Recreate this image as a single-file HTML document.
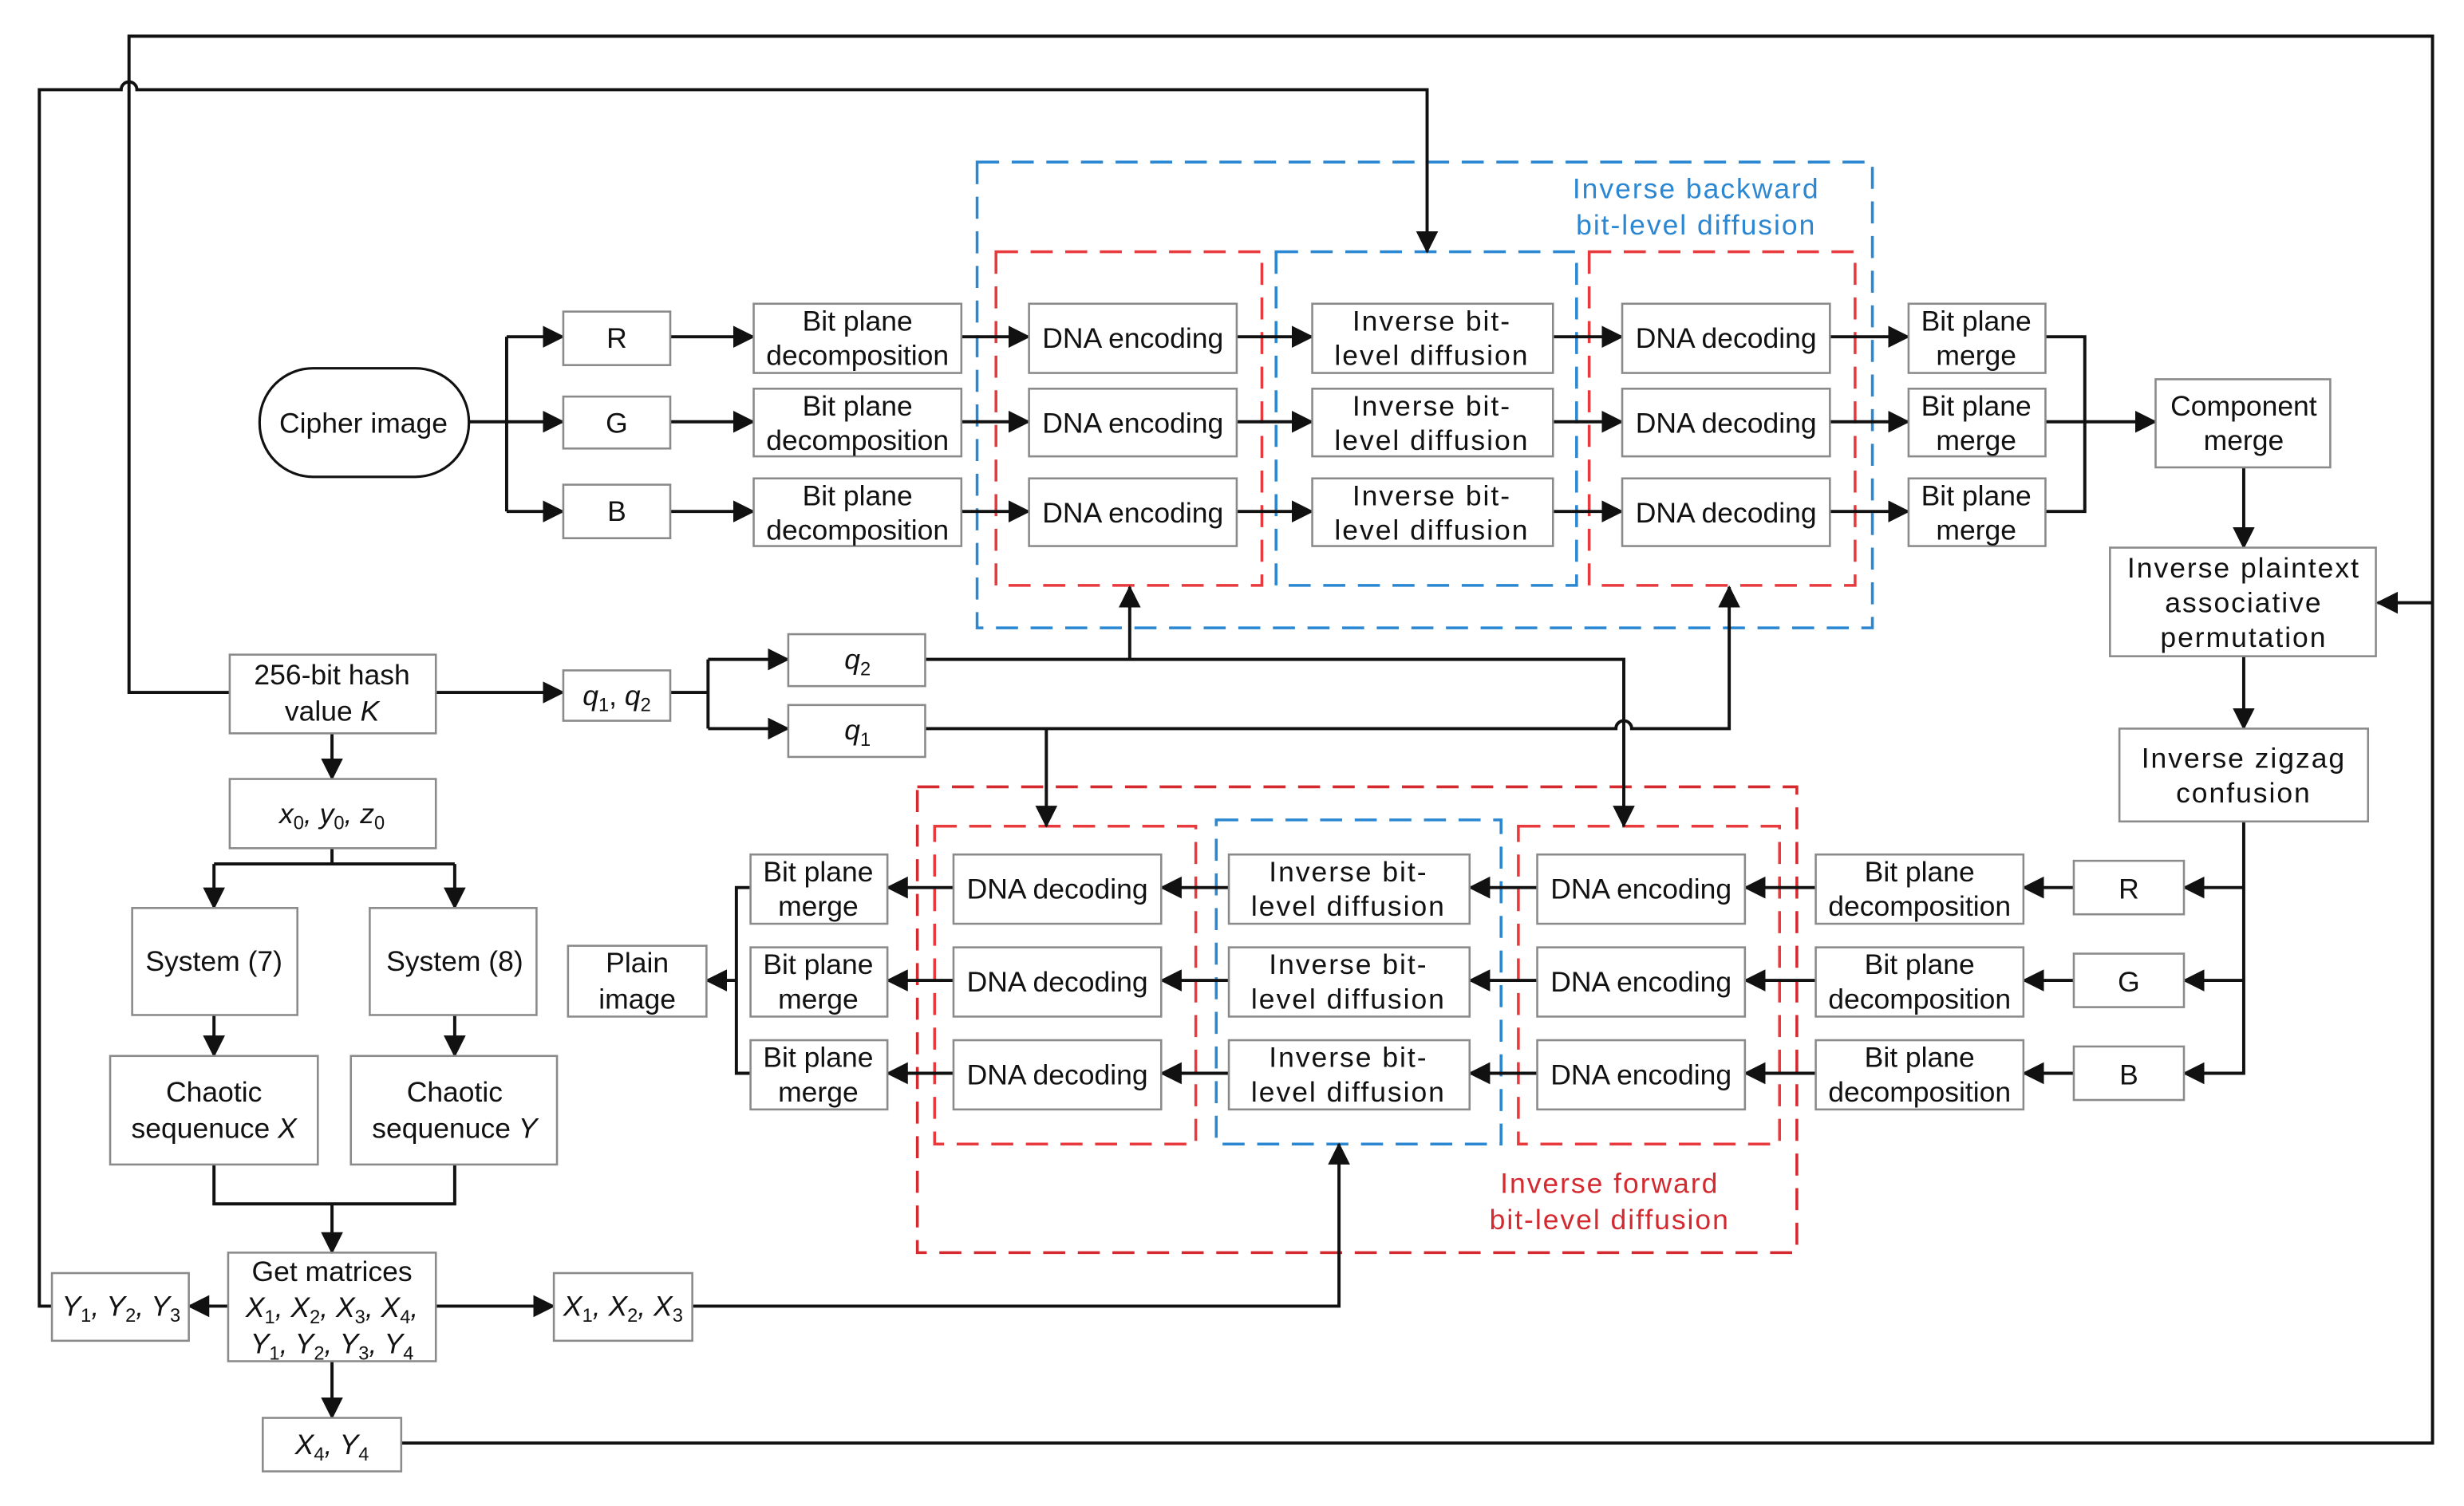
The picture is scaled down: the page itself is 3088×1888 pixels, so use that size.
<!DOCTYPE html>
<html><head><meta charset="utf-8"><style>
html,body{margin:0;padding:0;background:#fff;}
svg{display:block;}
text{font-family:"Liberation Sans",Arial,sans-serif;font-size:18px;fill:#111;text-anchor:middle;}
.b{fill:#fff;stroke:#8a8a8a;stroke-width:1.3;}
.l{fill:none;stroke:#111;stroke-width:2;}
.rd{fill:none;stroke:#e8393d;stroke-width:1.8;stroke-dasharray:14,8;}
.bd{fill:none;stroke:#2b87d1;stroke-width:1.8;stroke-dasharray:14,8;}
.sp{letter-spacing:1px;}
</style></head><body>
<svg width="3088" height="1888" viewBox="0 0 1566 957" preserveAspectRatio="none" xmlns="http://www.w3.org/2000/svg">
<defs><marker id="a" markerUnits="userSpaceOnUse" markerWidth="14" markerHeight="14" refX="13" refY="7" orient="auto"><path d="M0,0 L14,7 L0,14 z" fill="#111"/></marker></defs>

<rect class="bd" x="621" y="103" width="569" height="296"/>
<rect class="rd" x="633" y="160" width="169" height="212"/>
<rect class="bd" x="811" y="160" width="191" height="212"/>
<rect class="rd" x="1010" y="160" width="169" height="212"/>
<text x="1078" y="126" style="fill:#2b87d1" class="sp">Inverse backward</text>
<text x="1078" y="149" style="fill:#2b87d1" class="sp">bit-level diffusion</text>
<rect class="rd" x="583" y="500" width="559" height="296" style="stroke:#d42a2f"/>
<rect class="rd" x="594" y="525" width="166" height="202"/>
<rect class="bd" x="773" y="521" width="181" height="206"/>
<rect class="rd" x="965" y="525" width="166" height="202"/>
<text x="1023" y="758" style="fill:#d42a2f" class="sp">Inverse forward</text>
<text x="1023" y="781" style="fill:#d42a2f" class="sp">bit-level diffusion</text>

<path class="l" d="M146,440 L82,440 L82,23 L1546,23 L1546,917 L255,917"/>
<path class="l" d="M1546,383 L1511,383" marker-end="url(#a)"/>
<path class="l" d="M33,830 L25,830 L25,57 L77,57 A5,5 0 0 1 87,57 L907,57 L907,160" marker-end="url(#a)"/>

<path class="l" d="M298,268 L322,268 M322,214 L322,325"/>
<path class="l" d="M322,214 L358,214" marker-end="url(#a)"/>
<path class="l" d="M322,268 L358,268" marker-end="url(#a)"/>
<path class="l" d="M322,325 L358,325" marker-end="url(#a)"/>
<g>
<path class="l" d="M426,214 L479,214" marker-end="url(#a)"/>
<path class="l" d="M426,268 L479,268" marker-end="url(#a)"/>
<path class="l" d="M426,325 L479,325" marker-end="url(#a)"/>
<path class="l" d="M611,214 L654,214" marker-end="url(#a)"/>
<path class="l" d="M611,268 L654,268" marker-end="url(#a)"/>
<path class="l" d="M611,325 L654,325" marker-end="url(#a)"/>
<path class="l" d="M786,214 L834,214" marker-end="url(#a)"/>
<path class="l" d="M786,268 L834,268" marker-end="url(#a)"/>
<path class="l" d="M786,325 L834,325" marker-end="url(#a)"/>
<path class="l" d="M987,214 L1031,214" marker-end="url(#a)"/>
<path class="l" d="M987,268 L1031,268" marker-end="url(#a)"/>
<path class="l" d="M987,325 L1031,325" marker-end="url(#a)"/>
<path class="l" d="M1163,214 L1213,214" marker-end="url(#a)"/>
<path class="l" d="M1163,268 L1213,268" marker-end="url(#a)"/>
<path class="l" d="M1163,325 L1213,325" marker-end="url(#a)"/>
</g>
<path class="l" d="M1300,214 L1325,214 L1325,325 L1300,325 M1300,268 L1325,268"/>
<path class="l" d="M1325,268 L1370,268" marker-end="url(#a)"/>
<path class="l" d="M1426,297 L1426,348" marker-end="url(#a)"/>
<path class="l" d="M1426,417 L1426,463" marker-end="url(#a)"/>
<path class="l" d="M1426,522 L1426,683"/>
<path class="l" d="M1426,564 L1388,564" marker-end="url(#a)"/>
<path class="l" d="M1426,623 L1388,623" marker-end="url(#a)"/>
<path class="l" d="M1426,682 L1388,682" marker-end="url(#a)"/>
<g>
<path class="l" d="M1318,564 L1286,564" marker-end="url(#a)"/>
<path class="l" d="M1318,623 L1286,623" marker-end="url(#a)"/>
<path class="l" d="M1318,682 L1286,682" marker-end="url(#a)"/>
<path class="l" d="M1154,564 L1109,564" marker-end="url(#a)"/>
<path class="l" d="M1154,623 L1109,623" marker-end="url(#a)"/>
<path class="l" d="M1154,682 L1109,682" marker-end="url(#a)"/>
<path class="l" d="M977,564 L934,564" marker-end="url(#a)"/>
<path class="l" d="M977,623 L934,623" marker-end="url(#a)"/>
<path class="l" d="M977,682 L934,682" marker-end="url(#a)"/>
<path class="l" d="M781,564 L738,564" marker-end="url(#a)"/>
<path class="l" d="M781,623 L738,623" marker-end="url(#a)"/>
<path class="l" d="M781,682 L738,682" marker-end="url(#a)"/>
<path class="l" d="M606,564 L564,564" marker-end="url(#a)"/>
<path class="l" d="M606,623 L564,623" marker-end="url(#a)"/>
<path class="l" d="M606,682 L564,682" marker-end="url(#a)"/>
</g>
<path class="l" d="M477,564 L468,564 L468,682 L477,682"/>
<path class="l" d="M468,623 L449,623" marker-end="url(#a)"/>

<path class="l" d="M277,440 L358,440" marker-end="url(#a)"/>
<path class="l" d="M426,440 L450,440 M450,419 L450,463"/>
<path class="l" d="M450,419 L501,419" marker-end="url(#a)"/>
<path class="l" d="M450,463 L501,463" marker-end="url(#a)"/>
<path class="l" d="M588,419 L1032,419 L1032,525" marker-end="url(#a)"/>
<path class="l" d="M718,419 L718,373" marker-end="url(#a)"/>
<path class="l" d="M588,463 L1027,463 A5,5 0 0 1 1037,463 L1099,463 L1099,373" marker-end="url(#a)"/>
<path class="l" d="M665,463 L665,525" marker-end="url(#a)"/>
<path class="l" d="M211,466 L211,495" marker-end="url(#a)"/>
<path class="l" d="M211,539 L211,549 M136,549 L289,549"/>
<path class="l" d="M136,549 L136,577" marker-end="url(#a)"/>
<path class="l" d="M289,549 L289,577" marker-end="url(#a)"/>
<path class="l" d="M136,645 L136,671" marker-end="url(#a)"/>
<path class="l" d="M289,645 L289,671" marker-end="url(#a)"/>
<path class="l" d="M136,740 L136,765 L289,765 L289,740"/>
<path class="l" d="M211,765 L211,796" marker-end="url(#a)"/>
<path class="l" d="M145,830 L120,830" marker-end="url(#a)"/>
<path class="l" d="M277,830 L352,830" marker-end="url(#a)"/>
<path class="l" d="M440,830 L851,830 L851,727" marker-end="url(#a)"/>
<path class="l" d="M211,865 L211,901" marker-end="url(#a)"/>

<rect x="165" y="234" width="133" height="69" rx="34" fill="#fff" stroke="#111" stroke-width="1.6"/>
<text x="231" y="275">Cipher image</text>

<g>
<rect class="b" x="358" y="198" width="68" height="34"/><text x="392" y="221">R</text>
<rect class="b" x="358" y="252" width="68" height="33"/><text x="392" y="275">G</text>
<rect class="b" x="358" y="308" width="68" height="34"/><text x="392" y="331">B</text>

<rect class="b" x="479" y="193" width="132" height="44"/><text x="545" y="210">Bit plane</text><text x="545" y="232">decomposition</text>
<rect class="b" x="479" y="247" width="132" height="43"/><text x="545" y="264">Bit plane</text><text x="545" y="286">decomposition</text>
<rect class="b" x="479" y="304" width="132" height="43"/><text x="545" y="321">Bit plane</text><text x="545" y="343">decomposition</text>

<rect class="b" x="654" y="193" width="132" height="44"/><text x="720" y="221">DNA encoding</text>
<rect class="b" x="654" y="247" width="132" height="43"/><text x="720" y="275">DNA encoding</text>
<rect class="b" x="654" y="304" width="132" height="43"/><text x="720" y="332">DNA encoding</text>

<rect class="b" x="834" y="193" width="153" height="44"/><text class="sp" x="910" y="210">Inverse bit-</text><text class="sp" x="910" y="232">level diffusion</text>
<rect class="b" x="834" y="247" width="153" height="43"/><text class="sp" x="910" y="264">Inverse bit-</text><text class="sp" x="910" y="286">level diffusion</text>
<rect class="b" x="834" y="304" width="153" height="43"/><text class="sp" x="910" y="321">Inverse bit-</text><text class="sp" x="910" y="343">level diffusion</text>

<rect class="b" x="1031" y="193" width="132" height="44"/><text x="1097" y="221">DNA decoding</text>
<rect class="b" x="1031" y="247" width="132" height="43"/><text x="1097" y="275">DNA decoding</text>
<rect class="b" x="1031" y="304" width="132" height="43"/><text x="1097" y="332">DNA decoding</text>

<rect class="b" x="1213" y="193" width="87" height="44"/><text x="1256" y="210">Bit plane</text><text x="1256" y="232">merge</text>
<rect class="b" x="1213" y="247" width="87" height="43"/><text x="1256" y="264">Bit plane</text><text x="1256" y="286">merge</text>
<rect class="b" x="1213" y="304" width="87" height="43"/><text x="1256" y="321">Bit plane</text><text x="1256" y="343">merge</text>

<rect class="b" x="1370" y="241" width="111" height="56"/><text x="1426" y="264">Component</text><text x="1426" y="286">merge</text>
<rect class="b" x="1341" y="348" width="169" height="69"/><text class="sp" x="1426" y="367">Inverse plaintext</text><text class="sp" x="1426" y="389">associative</text><text class="sp" x="1426" y="411">permutation</text>
<rect class="b" x="1347" y="463" width="158" height="59"/><text class="sp" x="1426" y="488">Inverse zigzag</text><text class="sp" x="1426" y="510">confusion</text>

<rect class="b" x="1318" y="547" width="70" height="34"/><text x="1353" y="571">R</text>
<rect class="b" x="1318" y="606" width="70" height="34"/><text x="1353" y="630">G</text>
<rect class="b" x="1318" y="665" width="70" height="34"/><text x="1353" y="689">B</text>

<rect class="b" x="1154" y="543" width="132" height="44"/><text x="1220" y="560">Bit plane</text><text x="1220" y="582">decomposition</text>
<rect class="b" x="1154" y="602" width="132" height="44"/><text x="1220" y="619">Bit plane</text><text x="1220" y="641">decomposition</text>
<rect class="b" x="1154" y="661" width="132" height="44"/><text x="1220" y="678">Bit plane</text><text x="1220" y="700">decomposition</text>

<rect class="b" x="977" y="543" width="132" height="44"/><text x="1043" y="571">DNA encoding</text>
<rect class="b" x="977" y="602" width="132" height="44"/><text x="1043" y="630">DNA encoding</text>
<rect class="b" x="977" y="661" width="132" height="44"/><text x="1043" y="689">DNA encoding</text>

<rect class="b" x="781" y="543" width="153" height="44"/><text class="sp" x="857" y="560">Inverse bit-</text><text class="sp" x="857" y="582">level diffusion</text>
<rect class="b" x="781" y="602" width="153" height="44"/><text class="sp" x="857" y="619">Inverse bit-</text><text class="sp" x="857" y="641">level diffusion</text>
<rect class="b" x="781" y="661" width="153" height="44"/><text class="sp" x="857" y="678">Inverse bit-</text><text class="sp" x="857" y="700">level diffusion</text>

<rect class="b" x="606" y="543" width="132" height="44"/><text x="672" y="571">DNA decoding</text>
<rect class="b" x="606" y="602" width="132" height="44"/><text x="672" y="630">DNA decoding</text>
<rect class="b" x="606" y="661" width="132" height="44"/><text x="672" y="689">DNA decoding</text>

<rect class="b" x="477" y="543" width="87" height="44"/><text x="520" y="560">Bit plane</text><text x="520" y="582">merge</text>
<rect class="b" x="477" y="602" width="87" height="44"/><text x="520" y="619">Bit plane</text><text x="520" y="641">merge</text>
<rect class="b" x="477" y="661" width="87" height="44"/><text x="520" y="678">Bit plane</text><text x="520" y="700">merge</text>

<rect class="b" x="361" y="601" width="88" height="45"/><text x="405" y="618">Plain</text><text x="405" y="641">image</text>

<rect class="b" x="146" y="416" width="131" height="50"/><text x="211" y="435">256-bit hash</text><text x="211" y="458">value <tspan font-style="italic">K</tspan></text>
<rect class="b" x="358" y="426" width="68" height="32"/><text x="392" y="448" font-style="italic">q<tspan font-size="12" dy="4" font-style="normal">1</tspan><tspan dy="-4" font-style="normal">, </tspan>q<tspan font-size="12" dy="4" font-style="normal">2</tspan></text>
<rect class="b" x="501" y="403" width="87" height="33"/><text x="545" y="425" font-style="italic">q<tspan font-size="12" dy="4" font-style="normal">2</tspan></text>
<rect class="b" x="501" y="448" width="87" height="33"/><text x="545" y="470" font-style="italic">q<tspan font-size="12" dy="4" font-style="normal">1</tspan></text>

<rect class="b" x="146" y="495" width="131" height="44"/><text x="211" y="523" font-style="italic">x<tspan font-size="12" dy="4" font-style="normal">0</tspan><tspan dy="-4">, y</tspan><tspan font-size="12" dy="4" font-style="normal">0</tspan><tspan dy="-4">, z</tspan><tspan font-size="12" dy="4" font-style="normal">0</tspan></text>
<rect class="b" x="84" y="577" width="105" height="68"/><text x="136" y="617">System (7)</text>
<rect class="b" x="235" y="577" width="106" height="68"/><text x="289" y="617">System (8)</text>
<rect class="b" x="70" y="671" width="132" height="69"/><text x="136" y="700">Chaotic</text><text x="136" y="723">sequenuce <tspan font-style="italic">X</tspan></text>
<rect class="b" x="223" y="671" width="131" height="69"/><text x="289" y="700">Chaotic</text><text x="289" y="723">sequenuce <tspan font-style="italic">Y</tspan></text>

<rect class="b" x="145" y="796" width="132" height="69"/>
<text x="211" y="814">Get matrices</text>
<text x="211" y="837" font-style="italic">X<tspan font-size="12" dy="4" font-style="normal">1</tspan><tspan dy="-4">, X</tspan><tspan font-size="12" dy="4" font-style="normal">2</tspan><tspan dy="-4">, X</tspan><tspan font-size="12" dy="4" font-style="normal">3</tspan><tspan dy="-4">, X</tspan><tspan font-size="12" dy="4" font-style="normal">4</tspan><tspan dy="-4">,</tspan></text>
<text x="211" y="860" font-style="italic">Y<tspan font-size="12" dy="4" font-style="normal">1</tspan><tspan dy="-4">, Y</tspan><tspan font-size="12" dy="4" font-style="normal">2</tspan><tspan dy="-4">, Y</tspan><tspan font-size="12" dy="4" font-style="normal">3</tspan><tspan dy="-4">, Y</tspan><tspan font-size="12" dy="4" font-style="normal">4</tspan></text>

<rect class="b" x="33" y="809" width="87" height="43"/><text x="77" y="836" font-style="italic">Y<tspan font-size="12" dy="4" font-style="normal">1</tspan><tspan dy="-4">, Y</tspan><tspan font-size="12" dy="4" font-style="normal">2</tspan><tspan dy="-4">, Y</tspan><tspan font-size="12" dy="4" font-style="normal">3</tspan></text>
<rect class="b" x="352" y="809" width="88" height="43"/><text x="396" y="836" font-style="italic">X<tspan font-size="12" dy="4" font-style="normal">1</tspan><tspan dy="-4">, X</tspan><tspan font-size="12" dy="4" font-style="normal">2</tspan><tspan dy="-4">, X</tspan><tspan font-size="12" dy="4" font-style="normal">3</tspan></text>
<rect class="b" x="167" y="901" width="88" height="34"/><text x="211" y="924" font-style="italic">X<tspan font-size="12" dy="4" font-style="normal">4</tspan><tspan dy="-4">, Y</tspan><tspan font-size="12" dy="4" font-style="normal">4</tspan></text>
</g>
</svg>
</body></html>
